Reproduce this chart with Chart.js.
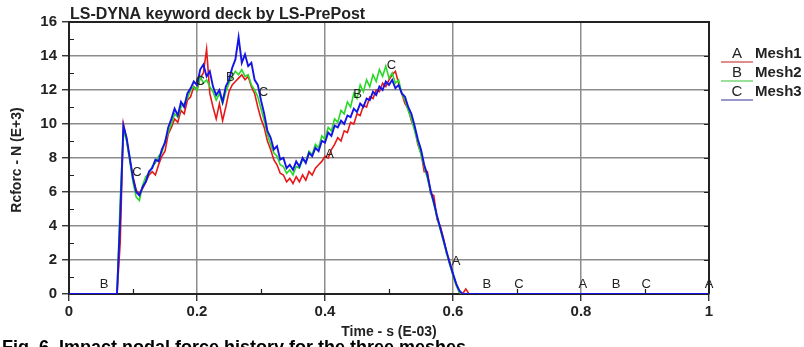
<!DOCTYPE html>
<html>
<head>
<meta charset="utf-8">
<script src="https://cdn.jsdelivr.net/npm/chart.js@4/dist/chart.umd.min.js"></script>
<style>
html,body{margin:0;padding:0;background:#fff;}
#wrap{position:relative;width:804px;height:347px;overflow:hidden;}
canvas{display:block;}
</style>
</head>
<body>
<div id="wrap"><canvas id="c" width="804" height="347"></canvas></div>
<script>
// ---- data ----
const chartTitle = "LS-DYNA keyword deck by LS-PrePost";
const xTitle = "Time - s (E-03)";
const yTitle = "Rcforc - N (E+3)";
const caption = "Fig. 6  Impact nodal force history for the three meshes";
const seriesNames = ["Mesh1", "Mesh2", "Mesh3"];
const seriesLetters = ["A", "B", "C"];
const xTicks = [0, 0.2, 0.4, 0.6, 0.8, 1];
const yTicks = [0, 2, 4, 6, 8, 10, 12, 14, 16];

// time samples (E-03 s): 0, then 0.075..0.625 every 0.005, then 1
const T_START = 0.075, T_STEP = 0.005, T_COUNT = 111;
const time = [0, ...Array.from({length: T_COUNT}, (_, i) => +(T_START + i * T_STEP).toFixed(3)), 1];

const mesh1 = [0,
  0, 3.0, 10.0, 9.1, 7.9, 6.9, 6.1, 5.9, 6.2, 6.6,
  7.0, 7.2, 7.0, 7.6, 8.1, 8.4, 9.4, 9.8, 10.3, 10.1,
  10.8, 10.6, 11.4, 11.6, 12.2, 12.0, 12.7, 13.0, 14.4, 11.8,
  11.0, 10.3, 11.2, 10.2, 11.0, 11.9, 12.3, 12.5, 12.7, 12.9,
  12.6, 12.8, 12.2, 11.8, 11.0, 10.3, 9.8, 9.0, 8.5, 7.9,
  7.6, 7.1, 7.0, 6.6, 6.8, 6.5, 6.9, 6.6, 7.0, 6.7,
  7.2, 7.0, 7.4, 7.6, 7.8, 8.1, 8.0, 8.5, 8.8, 9.2,
  9.0, 9.6, 9.5, 10.1, 10.0, 10.6, 10.5, 11.1, 11.0, 11.6,
  11.5, 12.0, 11.9, 12.4, 12.2, 12.6, 12.9, 13.1, 12.4, 11.8,
  11.2, 10.9, 10.2, 9.8, 8.8, 8.3, 7.2, 7.2, 5.9, 5.8,
  4.4, 4.0, 3.3, 2.4, 1.9, 1.1, 0.6, 0.1, 0, 0.3, 0,
  0];
const mesh2 = [0,
  0, 5.5, 9.6, 9.0, 7.8, 6.6, 5.7, 5.5, 6.4, 6.9,
  7.1, 7.5, 7.7, 8.1, 8.3, 9.0, 9.5, 10.0, 10.6, 10.4,
  11.0, 11.2, 11.5, 12.0, 12.2, 12.0, 12.8, 12.4, 12.6, 12.2,
  11.9, 11.4, 11.8, 11.2, 11.9, 12.4, 12.8, 13.1, 12.9, 13.2,
  12.8, 12.9, 12.3, 12.0, 11.6, 10.9, 10.2, 9.4, 8.8, 8.3,
  8.1, 7.6, 7.5, 7.1, 7.3, 7.0, 7.5, 7.4, 7.9, 7.8,
  8.4, 8.2, 8.8, 8.6, 9.3, 9.1, 9.8, 9.6, 10.3, 10.1,
  10.8, 10.6, 11.3, 11.0, 11.8, 11.5, 12.3, 11.9, 12.6, 12.2,
  12.9, 12.5, 13.2, 12.8, 13.4, 12.7, 13.0, 12.4, 12.6, 11.8,
  11.4, 10.8, 10.3, 9.6, 8.9, 8.2, 7.5, 6.8, 6.0, 5.3,
  4.5, 3.8, 3.1, 2.4, 1.7, 1.1, 0.5, 0.1, 0, 0, 0,
  0];
const mesh3 = [0,
  0, 4.5, 9.9, 9.2, 8.0, 6.8, 6.0, 5.8, 6.3, 6.6,
  7.2, 7.4, 7.9, 7.8, 8.5, 8.9, 9.8, 10.3, 10.9, 10.5,
  11.3, 11.0, 11.8, 12.1, 12.5, 12.3, 13.2, 13.5, 12.8, 13.1,
  12.2, 11.7, 12.0, 11.3, 12.2, 12.6, 13.3, 13.8, 15.1, 13.6,
  14.1, 13.4, 13.6, 12.6, 12.3, 11.4, 10.6, 9.6, 9.2, 8.5,
  8.7, 7.9, 8.0, 7.4, 7.6, 7.3, 7.8, 7.5, 8.0, 7.7,
  8.3, 8.1, 8.6, 8.4, 9.0, 8.9, 9.5, 9.3, 9.9, 9.8,
  10.2, 10.0, 10.5, 10.4, 10.9, 10.7, 11.2, 11.0, 11.5, 11.4,
  11.9, 11.7, 12.2, 12.0, 12.5, 12.3, 12.6, 12.1, 12.3, 11.8,
  11.6, 11.0, 10.6, 9.9, 9.1, 8.5, 7.6, 7.0, 6.1, 5.4,
  4.6, 3.9, 3.2, 2.5, 1.8, 1.2, 0.6, 0.2, 0, 0, 0,
  0];

// curve letter markers (letter, time, value)
const markLetters = ["B", "C", "C", "B", "C", "A", "B", "C", "A", "B", "C", "A", "B", "C", "A"];
const markTimes   = [0.055, 0.106, 0.205, 0.252, 0.304, 0.407, 0.451, 0.504, 0.605, 0.653, 0.703, 0.803, 0.855, 0.902, 1.0];
const markValues  = [0.35, 6.9, 12.25, 12.5, 11.6, 8.0, 11.5, 13.2, 1.7, 0.35, 0.35, 0.35, 0.35, 0.35, 0.35];

const colors = ["#e81818", "#28d828", "#1414e6"];
const widths = [1.6, 1.6, 1.9];
const legendColors = ["#d05050", "#60d060", "#6060b0"];

const seriesData = [mesh1, mesh2, mesh3];
const datasets = seriesData.map((vals, k) => ({
  label: seriesNames[k],
  data: time.map((t, i) => ({x: t, y: vals[i]})),
  borderColor: colors[k],
  borderWidth: widths[k],
  pointRadius: 0,
  tension: 0,
  fill: false,
  order: 3 - k
}));

const FONT = "'Liberation Sans', Arial, sans-serif";
const INK = "#222";

const decor = {
  id: 'decor',
  afterDatasetsDraw(chart) {
    const ctx = chart.ctx, ca = chart.chartArea;
    const xs = chart.scales.x, ys = chart.scales.y;
    ctx.save();
    // top & right frame
    ctx.strokeStyle = INK; ctx.lineWidth = 2;
    ctx.beginPath();
    ctx.moveTo(ca.left, ca.top); ctx.lineTo(ca.right, ca.top); ctx.lineTo(ca.right, ca.bottom);
    ctx.stroke();
    // minor ticks
    ctx.lineWidth = 1.2;
    ctx.beginPath();
    for (let v = 1; v < 16; v += 2) {
      const y = Math.round(ys.getPixelForValue(v)) + 0.5;
      ctx.moveTo(ca.left, y); ctx.lineTo(ca.left + 5, y);
    }
    for (let k = 0; k < 5; k++) {
      const x = Math.round(xs.getPixelForValue(0.1 + 0.2 * k)) + 0.5;
      ctx.moveTo(x, ca.bottom); ctx.lineTo(x, ca.bottom - 5);
    }
    for (let v = 2; v < 16; v += 2) {
      const y = Math.round(ys.getPixelForValue(v)) + 0.5;
      ctx.moveTo(ca.right - 5, y); ctx.lineTo(ca.right, y);
    }
    ctx.stroke();
    // curve letters
    ctx.fillStyle = INK;
    ctx.font = "13px " + FONT;
    ctx.textAlign = 'center'; ctx.textBaseline = 'middle';
    markLetters.forEach((L, i) => {
      ctx.fillText(L, xs.getPixelForValue(markTimes[i]), ys.getPixelForValue(markValues[i]) - 4);
    });
    ctx.restore();
  },
  afterDraw(chart) {
    const ctx = chart.ctx, ca = chart.chartArea;
    ctx.save();
    ctx.fillStyle = INK;
    // chart title
    ctx.font = "bold 16px " + FONT;
    ctx.textAlign = 'left'; ctx.textBaseline = 'alphabetic';
    ctx.fillText(chartTitle, ca.left + 1, 19);
    // x title
    ctx.font = "bold 14px " + FONT;
    ctx.textAlign = 'center'; ctx.textBaseline = 'middle';
    ctx.fillText(xTitle, (ca.left + ca.right) / 2, 332);
    // y title
    ctx.save();
    ctx.translate(17, (ca.top + ca.bottom) / 2 + 2);
    ctx.rotate(-Math.PI / 2);
    ctx.fillText(yTitle, 0, 0);
    ctx.restore();
    // legend
    seriesNames.forEach((name, k) => {
      const yc = 54 + k * 19;
      ctx.strokeStyle = legendColors[k]; ctx.lineWidth = 1.3;
      ctx.beginPath(); ctx.moveTo(721, yc + 8); ctx.lineTo(753, yc + 8); ctx.stroke();
      ctx.fillStyle = INK;
      ctx.font = "15px " + FONT; ctx.textAlign = 'center';
      ctx.fillText(seriesLetters[k], 737, yc);
      ctx.font = "bold 15px " + FONT; ctx.textAlign = 'left';
      ctx.fillText(name, 755, yc);
    });
    // caption (cut by bottom edge)
    ctx.fillStyle = "#000";
    ctx.font = "bold 18px " + FONT;
    ctx.textAlign = 'left'; ctx.textBaseline = 'alphabetic';
    ctx.fillText(caption, 2, 353);
    ctx.restore();
  }
};

new Chart(document.getElementById('c'), {
  type: 'line',
  data: {datasets},
  options: {
    responsive: false,
    animation: false,
    events: [],
    layout: {padding: {top: 22, right: 95, left: 0, bottom: 0}},
    plugins: {legend: {display: false}, tooltip: {enabled: false}, title: {display: false}},
    scales: {
      x: {
        type: 'linear', min: 0, max: 1,
        afterBuildTicks(s) { s.ticks = xTicks.map(v => ({value: v})); },
        afterFit(s) { s.height = 53; },
        ticks: {color: INK, font: {family: FONT, size: 15, weight: 'bold'}, padding: 2, maxRotation: 0,
                callback: v => String(v)},
        grid: {color: '#8c8c8c', lineWidth: 1.5, tickColor: INK, tickLength: 7, tickWidth: 1.3},
        border: {display: true, color: INK, width: 2}
      },
      y: {
        type: 'linear', min: 0, max: 16,
        afterBuildTicks(s) { s.ticks = yTicks.map(v => ({value: v})); },
        afterFit(s) { s.width = 69; },
        ticks: {color: INK, font: {family: FONT, size: 15, weight: 'bold'}, padding: 5,
                callback: v => String(v)},
        grid: {color: '#8c8c8c', lineWidth: 1.5, tickColor: INK, tickLength: 7, tickWidth: 1.3},
        border: {display: true, color: INK, width: 2}
      }
    }
  },
  plugins: [decor]
});
</script>
</body>
</html>
